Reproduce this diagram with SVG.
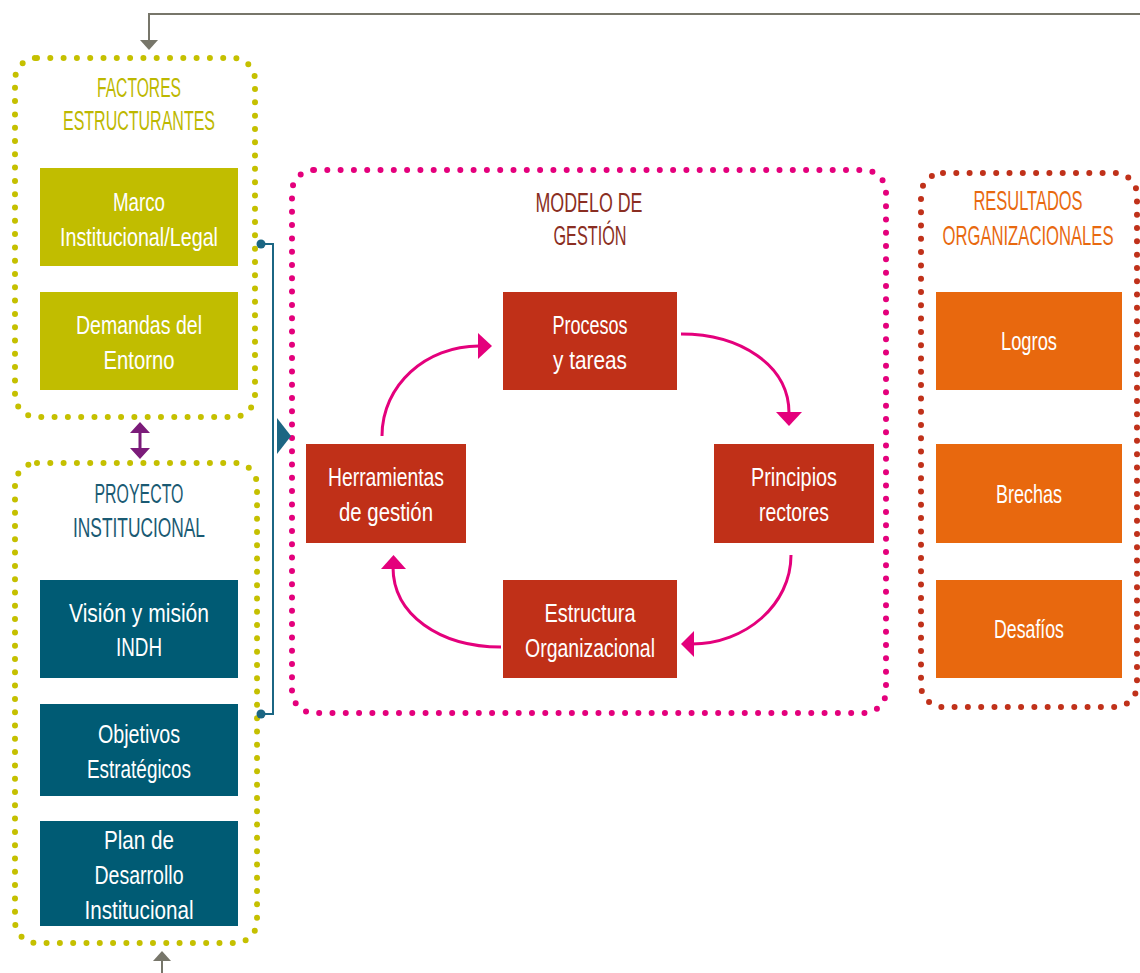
<svg xmlns="http://www.w3.org/2000/svg" width="1140" height="973" viewBox="0 0 1140 973">
<style>
.dot{fill:none;stroke-width:6;stroke-linecap:round;stroke-dasharray:0 13.3}
.t{font-family:"Liberation Sans",Arial,sans-serif;font-size:25px;text-anchor:middle;fill:#fff}
.h{font-family:"Liberation Sans",Arial,sans-serif;font-size:27px;text-anchor:middle}
.arr{fill:none;stroke:#e4007c;stroke-width:3}
</style>
<rect width="1140" height="973" fill="#fff"/>
<g id="factores">
<rect class="dot" x="15" y="58" width="240" height="359" rx="22" stroke="#c5c000"/>
<text class="h" fill="#bdb800" x="139" y="97" textLength="84" lengthAdjust="spacingAndGlyphs">FACTORES</text>
<text class="h" fill="#bdb800" x="139" y="130" textLength="152" lengthAdjust="spacingAndGlyphs">ESTRUCTURANTES</text>
</g>
<g id="marco">
<rect x="40" y="168" width="198" height="98" fill="#c1bd00"/>
<text class="t" x="139" y="211" textLength="52" lengthAdjust="spacingAndGlyphs">Marco</text>
<text class="t" x="139" y="246" textLength="158" lengthAdjust="spacingAndGlyphs">Institucional/Legal</text>
</g>
<g id="demandas">
<rect x="40" y="292" width="198" height="98" fill="#c1bd00"/>
<text class="t" x="139" y="334" textLength="126" lengthAdjust="spacingAndGlyphs">Demandas del</text>
<text class="t" x="139" y="369" textLength="71" lengthAdjust="spacingAndGlyphs">Entorno</text>
</g>
<g id="proyecto">
<rect class="dot" x="15" y="463" width="242" height="480" rx="22" stroke="#c5c000"/>
<text class="h" fill="#1a5a73" x="139" y="503" textLength="89" lengthAdjust="spacingAndGlyphs">PROYECTO</text>
<text class="h" fill="#1a5a73" x="139" y="537" textLength="132" lengthAdjust="spacingAndGlyphs">INSTITUCIONAL</text>
</g>
<g id="vision">
<rect x="40" y="580" width="198" height="98" fill="#005b74"/>
<text class="t" x="139" y="622" textLength="140" lengthAdjust="spacingAndGlyphs">Visión y misión</text>
<text class="t" x="139" y="656" textLength="46" lengthAdjust="spacingAndGlyphs">INDH</text>
</g>
<g id="objetivos">
<rect x="40" y="704" width="198" height="92" fill="#005b74"/>
<text class="t" x="139" y="743" textLength="82" lengthAdjust="spacingAndGlyphs">Objetivos</text>
<text class="t" x="139" y="778" textLength="104" lengthAdjust="spacingAndGlyphs">Estratégicos</text>
</g>
<g id="plan">
<rect x="40" y="821" width="198" height="105" fill="#005b74"/>
<text class="t" x="139" y="849" textLength="70" lengthAdjust="spacingAndGlyphs">Plan de</text>
<text class="t" x="139" y="884" textLength="89" lengthAdjust="spacingAndGlyphs">Desarrollo</text>
<text class="t" x="139" y="919" textLength="109" lengthAdjust="spacingAndGlyphs">Institucional</text>
</g>
<g id="modelo">
<rect class="dot" x="292" y="170" width="594" height="543" rx="22" stroke="#e4007c"/>
<text class="h" fill="#8a2e22" x="589" y="212" textLength="107" lengthAdjust="spacingAndGlyphs">MODELO DE</text>
<text class="h" fill="#8a2e22" x="590" y="245" textLength="73" lengthAdjust="spacingAndGlyphs">GESTIÓN</text>
</g>
<g id="procesos">
<rect x="503" y="292" width="174" height="98" fill="#c03018"/>
<text class="t" x="590" y="334" textLength="75" lengthAdjust="spacingAndGlyphs">Procesos</text>
<text class="t" x="590" y="369" textLength="74" lengthAdjust="spacingAndGlyphs">y tareas</text>
</g>
<g id="herramientas">
<rect x="306" y="444" width="160" height="99" fill="#c03018"/>
<text class="t" x="386" y="486" textLength="116" lengthAdjust="spacingAndGlyphs">Herramientas</text>
<text class="t" x="386" y="521" textLength="94" lengthAdjust="spacingAndGlyphs">de gestión</text>
</g>
<g id="principios">
<rect x="714" y="444" width="160" height="99" fill="#c03018"/>
<text class="t" x="794" y="486" textLength="86" lengthAdjust="spacingAndGlyphs">Principios</text>
<text class="t" x="794" y="521" textLength="70" lengthAdjust="spacingAndGlyphs">rectores</text>
</g>
<g id="estructura">
<rect x="503" y="580" width="174" height="98" fill="#c03018"/>
<text class="t" x="590" y="622" textLength="91" lengthAdjust="spacingAndGlyphs">Estructura</text>
<text class="t" x="590" y="657" textLength="130" lengthAdjust="spacingAndGlyphs">Organizacional</text>
</g>
<g id="resultados">
<rect class="dot" x="921" y="173" width="216" height="534" rx="22" stroke="#c0311a"/>
<text class="h" fill="#e8690f" transform="translate(1028,210) scale(0.6,1)" x="0" y="0" textLength="182" lengthAdjust="spacingAndGlyphs">RESULTADOS</text>
<text class="h" fill="#e8690f" transform="translate(1028,245) scale(0.6,1)" x="0" y="0" textLength="285" lengthAdjust="spacingAndGlyphs">ORGANIZACIONALES</text>
</g>
<g id="logros">
<rect x="936" y="292" width="186" height="98" fill="#e8680e"/>
<text class="t" x="1029" y="350" textLength="56" lengthAdjust="spacingAndGlyphs">Logros</text>
</g>
<g id="brechas">
<rect x="936" y="444" width="186" height="99" fill="#e8680e"/>
<text class="t" x="1029" y="503" textLength="66" lengthAdjust="spacingAndGlyphs">Brechas</text>
</g>
<g id="desafios">
<rect x="936" y="580" width="186" height="98" fill="#e8680e"/>
<text class="t" x="1029" y="638" textLength="70" lengthAdjust="spacingAndGlyphs">Desafíos</text>
</g>
<g id="connectors">
<path d="M1140,14 H149 V40" fill="none" stroke="#77766a" stroke-width="2"/>
<path d="M140,40 L158,40 L149,50 Z" fill="#77766a"/>
<path d="M162,973 V960" fill="none" stroke="#77766a" stroke-width="2"/>
<path d="M153,961 L171,961 L162,951 Z" fill="#77766a"/>
<path d="M140,431 V450" stroke="#7b1b7a" stroke-width="3"/>
<path d="M130,433 L150,433 L140,422 Z M130,448 L150,448 L140,459 Z" fill="#7b1b7a"/>
<path d="M261,244 H273 V714 H261" fill="none" stroke="#1b6683" stroke-width="2"/>
<circle cx="261" cy="244" r="4.5" fill="#1b6683"/>
<circle cx="261" cy="714" r="4.5" fill="#1b6683"/>
<path d="M277,418 L291,436 L277,454 Z" fill="#1b6683"/>
<path class="arr" d="M382,436 C382,385 426,346 479,346"/>
<path d="M478,333 L492,346 L478,359 Z" fill="#e4007c"/>
<path class="arr" d="M681,334 C740,334 789,365 789,413"/>
<path d="M776,412 L802,412 L789,426 Z" fill="#e4007c"/>
<path class="arr" d="M791,555 C791,605 745,644 692,644"/>
<path d="M694,631 L681,644 L694,657 Z" fill="#e4007c"/>
<path class="arr" d="M501,647 C440,647 393,615 393,567"/>
<path d="M381,569 L406,569 L393.5,555 Z" fill="#e4007c"/>
</g>
</svg>
